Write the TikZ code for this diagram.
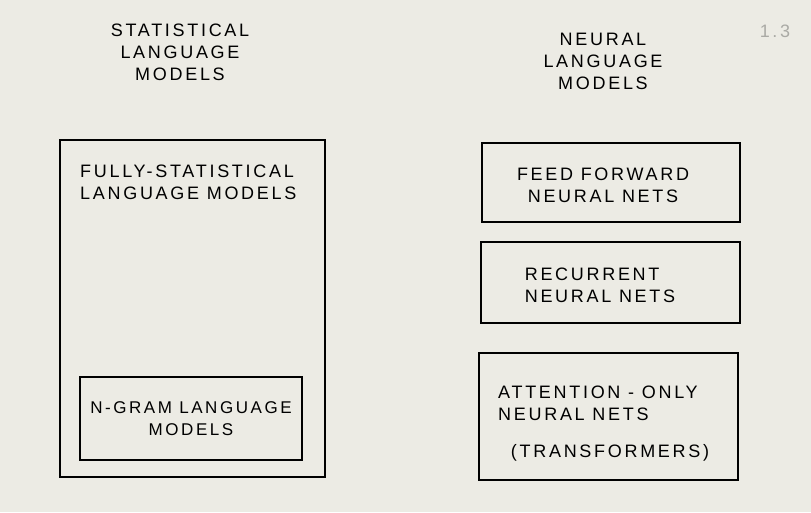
\documentclass[tikz,border=0pt]{standalone}
\usepackage{fontspec}
\setmainfont{Liberation Sans}[LetterSpace=15]
\usepackage{xcolor}
\usetikzlibrary{positioning}
\definecolor{paper}{RGB}{236,235,228}
\definecolor{pencil}{RGB}{170,170,165}
\begin{document}
\begin{tikzpicture}[x=1pt,y=-1pt,
      font=\fontsize{18}{22}\selectfont,
      box style/.style={draw=black,line width=2pt,inner sep=0pt},
      head style/.style={align=center,inner sep=0pt},
      label style/.style={align=center,inner sep=0pt}
      ]
      \fill[paper] (0,0) rectangle (811,512);
      \useasboundingbox (0,0) rectangle (811,512);
      % headings
      \node[head style] (stathead) at (180,52) {STATISTICAL\\LANGUAGE\\MODELS};
      \node[head style] (neurhead) at (603,61) {NEURAL\\LANGUAGE\\MODELS};
      \node[text=pencil,inner sep=0pt] (page) at (775,31) {1.3};
      % statistical side
      \node[box style,minimum width=265,minimum height=337] (stat) at (192.5,308.5) {};
      \node[label style,align=left,anchor=north west] (statlab) at (80,165) {FULLY-STATISTICAL\\LANGUAGE MODELS};
      \node[box style,minimum width=222,minimum height=83] (ngram) at (191,418.5) {};
      \node[label style,font=\fontsize{17}{22}\selectfont] (ngramlab) at (ngram) {N-GRAM LANGUAGE\\MODELS};
      % neural side
      \node[box style,minimum width=258,minimum height=79] (ff) at (611,182.5) {};
      \node[label style] (fflab) at (603,185) {FEED FORWARD\\NEURAL NETS};
      \node[box style,minimum width=259,minimum height=81] (rnn) at (610.5,282.5) {};
      \node[label style,align=left] (rnnlab) at (600,285) {RECURRENT\\NEURAL NETS};
      \node[box style,minimum width=259,minimum height=127] (attn) at (608.5,416.5) {};
      \node[label style,align=left,anchor=north west] (attnlab) at (498,386) {ATTENTION - ONLY\\NEURAL NETS};
      \node[label style] (trf) at (610,453) {(TRANSFORMERS)};
    \end{tikzpicture}
\end{document}
